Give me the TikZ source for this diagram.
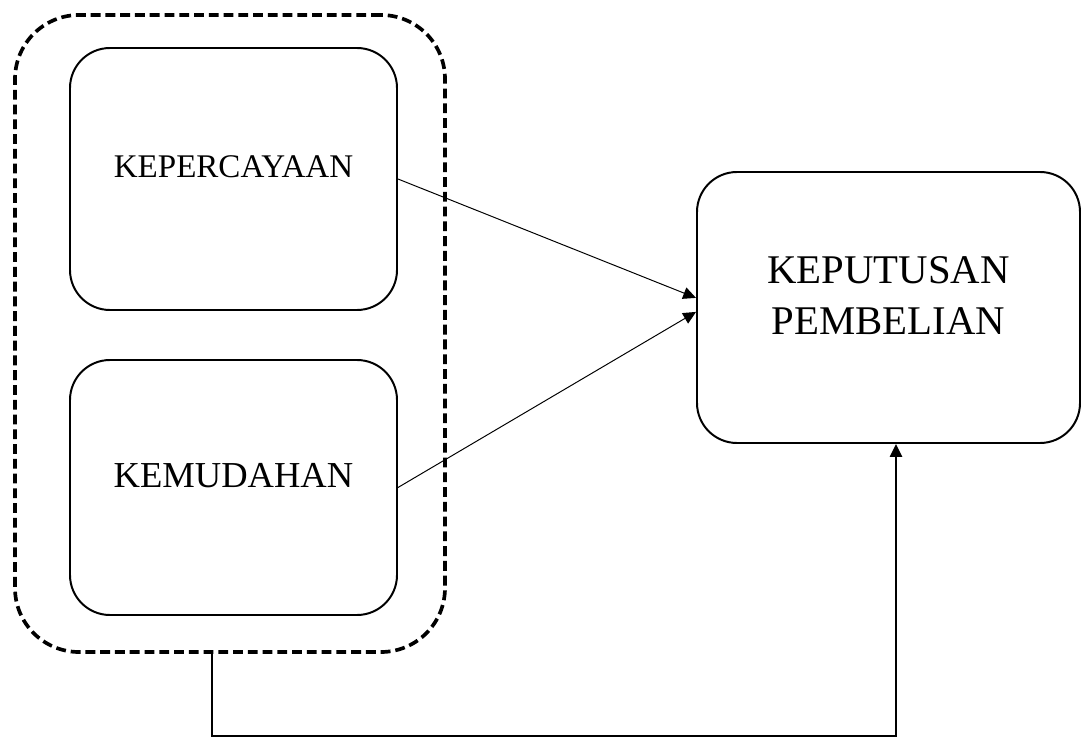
\documentclass[tikz,border=0pt]{standalone}
\usepackage{fontspec}
\setmainfont{Liberation Serif}
\usetikzlibrary{arrows.meta,positioning,calc}

\begin{document}
\begin{tikzpicture}[
            >={Triangle[length=3.2mm,width=3mm]},
            box/.style={draw, line width=1.4pt, rounded corners=1cm, align=center},
            kerangka/.style={draw, line width=2.6pt, rounded corners=1.6cm,
                dash pattern=on 7pt off 3.5pt},
            panah/.style={->, line width=0.7pt},
            alur/.style={->, line width=1.4pt}
        ]

        \useasboundingbox (0,0) rectangle (27.075,-18.45);

        %================================================
        % Left group: two variables in a dashed frame
        %================================================
        \node[kerangka, minimum width=10.75cm, minimum height=15.925cm] (kelompok) at (5.75,-8.3375) {};

        \node[box, minimum width=8.175cm, minimum height=6.55cm, text depth=0.6cm,
              font=\fontsize{23.5}{28}\selectfont] (kepercayaan) at (5.8375,-4.475) {KEPERCAYAAN};
        \node[box, minimum width=8.175cm, minimum height=6.375cm, text depth=0.6cm,
              font=\fontsize{26}{31}\selectfont] (kemudahan) at (5.8375,-12.1875) {KEMUDAHAN};

        %================================================
        % Right: dependent variable
        %================================================
        \node[box, minimum width=9.575cm, minimum height=6.775cm, text depth=0.6cm,
              font=\fontsize{29}{36}\selectfont] (keputusan) at (22.2125,-7.6875) {KEPUTUSAN\\PEMBELIAN};

        %================================================
        % Connectors
        %================================================
        \draw[panah] (kepercayaan.east) -- ($(keputusan.west)+(0,0.24)$);
        \draw[panah] (kemudahan.east) -- ($(keputusan.west)+(0,-0.11)$);

        \coordinate (belok1) at (5.3,-18.4);
        \coordinate (belok2) at (22.4,-18.4);
        \draw[alur] (belok1 |- kelompok.south) -- (belok1) -- (belok2) -- (belok2 |- keputusan.south);

        \end{tikzpicture}
\end{document}
